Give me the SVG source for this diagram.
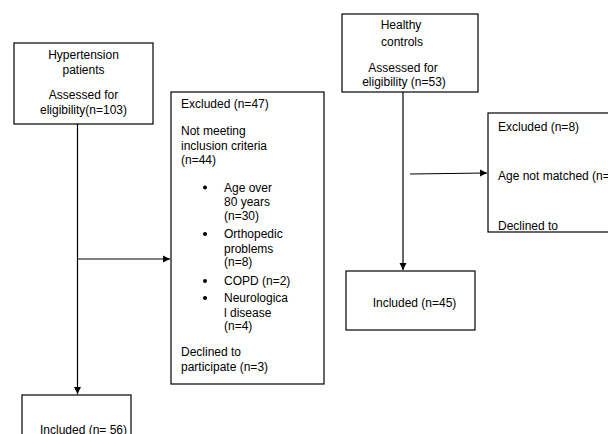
<svg xmlns="http://www.w3.org/2000/svg" width="608" height="434" viewBox="0 0 608 434">
<style>
.box{fill:#fff;stroke:#000;stroke-width:1.2}
text{font-family:"Liberation Sans",Arial,sans-serif;font-size:12px;fill:#000}
.c{text-anchor:middle}
.ln{stroke:#000;stroke-width:1.2;fill:none}
</style>
<defs>
<marker id="ah" markerWidth="8" markerHeight="8" refX="7" refY="4" orient="auto" markerUnits="userSpaceOnUse">
<path d="M0,0.5 L7,4 L0,7.5 Z" fill="#000"/>
</marker>
</defs>
<rect width="608" height="434" fill="#fff"/>
<g id="connectors">
<line class="ln" x1="77.5" y1="124" x2="77.5" y2="394" marker-end="url(#ah)"/>
<line class="ln" x1="77.5" y1="259" x2="170" y2="259" marker-end="url(#ah)"/>
<line class="ln" x1="403" y1="92" x2="403" y2="270" marker-end="url(#ah)"/>
<line class="ln" x1="410" y1="174" x2="487" y2="173" marker-end="url(#ah)"/>
</g>
<g id="hypertension">
<rect class="box" x="14" y="43" width="139" height="81"/>
<text class="c" x="83.5" y="59">Hypertension</text>
<text class="c" x="83.5" y="74">patients</text>
<text class="c" x="83.5" y="99">Assessed for</text>
<text class="c" x="83.5" y="114">eligibility(n=103)</text>
</g>
<g id="excluded47">
<rect class="box" x="171" y="92" width="153" height="292"/>
<text x="181" y="108">Excluded (n=47)</text>
<text x="181" y="134.5">Not meeting</text>
<text x="181" y="150">inclusion criteria</text>
<text x="181" y="164">(n=44)</text>
<circle cx="205" cy="187.5" r="2"/>
<text x="224" y="191.5">Age over</text>
<text x="224" y="206">80 years</text>
<text x="224" y="220">(n=30)</text>
<circle cx="205" cy="234" r="2"/>
<text x="224" y="238">Orthopedic</text>
<text x="224" y="252.5">problems</text>
<text x="224" y="266">(n=8)</text>
<circle cx="205" cy="281" r="2"/>
<text x="224" y="285">COPD (n=2)</text>
<circle cx="205" cy="298" r="2"/>
<text x="224" y="302">Neurologica</text>
<text x="224" y="317">l disease</text>
<text x="224" y="330">(n=4)</text>
<text x="181" y="355.5">Declined to</text>
<text x="181" y="370.5">participate (n=3)</text>
</g>
<g id="included56">
<rect class="box" x="22" y="395" width="109" height="50"/>
<text class="c" x="83.5" y="434">Included (n= 56)</text>
</g>
<g id="healthy">
<rect class="box" x="342" y="14" width="136" height="78"/>
<text class="c" x="401" y="29">Healthy</text>
<text class="c" x="402" y="46">controls</text>
<text class="c" x="403" y="72">Assessed for</text>
<text class="c" x="404" y="86">eligibility (n=53)</text>
</g>
<g id="excluded8">
<rect class="box" x="488" y="113" width="130" height="119"/>
<text x="498" y="131">Excluded (n=8)</text>
<text x="498" y="180">Age not matched (n=</text>
<text x="498" y="230">Declined to</text>
</g>
<g id="included45">
<rect class="box" x="346" y="271" width="129" height="59"/>
<text class="c" x="414.5" y="307">Included (n=45)</text>
</g>
</svg>
